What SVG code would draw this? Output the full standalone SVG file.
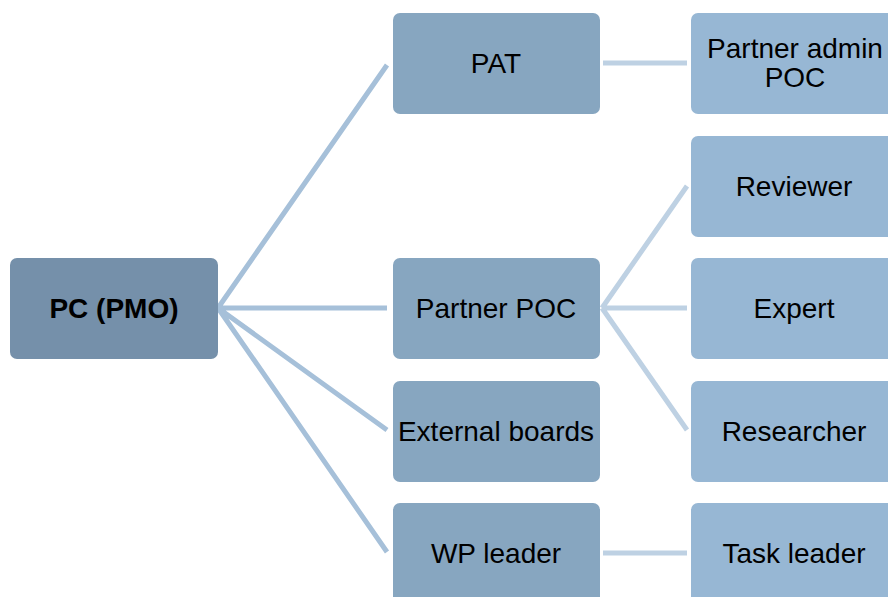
<svg xmlns="http://www.w3.org/2000/svg" width="888" height="597" viewBox="0 0 888 597">
<style>
.t{font-family:"Liberation Sans",Arial,sans-serif;font-size:28px;fill:#000;text-anchor:middle}
.b{font-weight:bold}
.n0{fill:#7590AA}
.n1{fill:#87A6C0}
.n2{fill:#97B7D4}
.c1{stroke:#A6C0D9;stroke-width:5;fill:none}
.c2{stroke:#BED1E3;stroke-width:5;fill:none}
</style>
<rect width="888" height="597" fill="#fff"/>
<g id="connectors">
<path class="c1" d="M218 308 L387 65 M218 308 L387 308 M218 308 L387 430 M218 308 L387 552"/>
<path class="c2" d="M603 63 L687 63 M603 553 L687 553 M602 308 L687 186 M602 308 L687 308 M602 308 L687 430"/>
</g>
<g id="pc"><rect class="n0" x="10" y="258" width="208" height="101" rx="7"/><text class="t b" x="114" y="318">PC (PMO)</text></g>
<g id="pat"><rect class="n1" x="393" y="13" width="207" height="101" rx="7"/><text class="t" x="496" y="73">PAT</text></g>
<g id="partner-poc"><rect class="n1" x="393" y="258" width="207" height="101" rx="7"/><text class="t" x="496" y="318">Partner POC</text></g>
<g id="external-boards"><rect class="n1" x="393" y="381" width="207" height="101" rx="7"/><text class="t" x="496" y="441">External boards</text></g>
<g id="wp-leader"><rect class="n1" x="393" y="503" width="207" height="101" rx="7"/><text class="t" x="496" y="563">WP leader</text></g>
<g id="partner-admin"><rect class="n2" x="691" y="13" width="207" height="101" rx="7"/><text class="t" x="795" y="58">Partner admin</text><text class="t" x="795" y="87">POC</text></g>
<g id="reviewer"><rect class="n2" x="691" y="136" width="207" height="101" rx="7"/><text class="t" x="794" y="196">Reviewer</text></g>
<g id="expert"><rect class="n2" x="691" y="258" width="207" height="101" rx="7"/><text class="t" x="794" y="318">Expert</text></g>
<g id="researcher"><rect class="n2" x="691" y="381" width="207" height="101" rx="7"/><text class="t" x="794" y="441">Researcher</text></g>
<g id="task-leader"><rect class="n2" x="691" y="503" width="207" height="101" rx="7"/><text class="t" x="794" y="563">Task leader</text></g>
</svg>
